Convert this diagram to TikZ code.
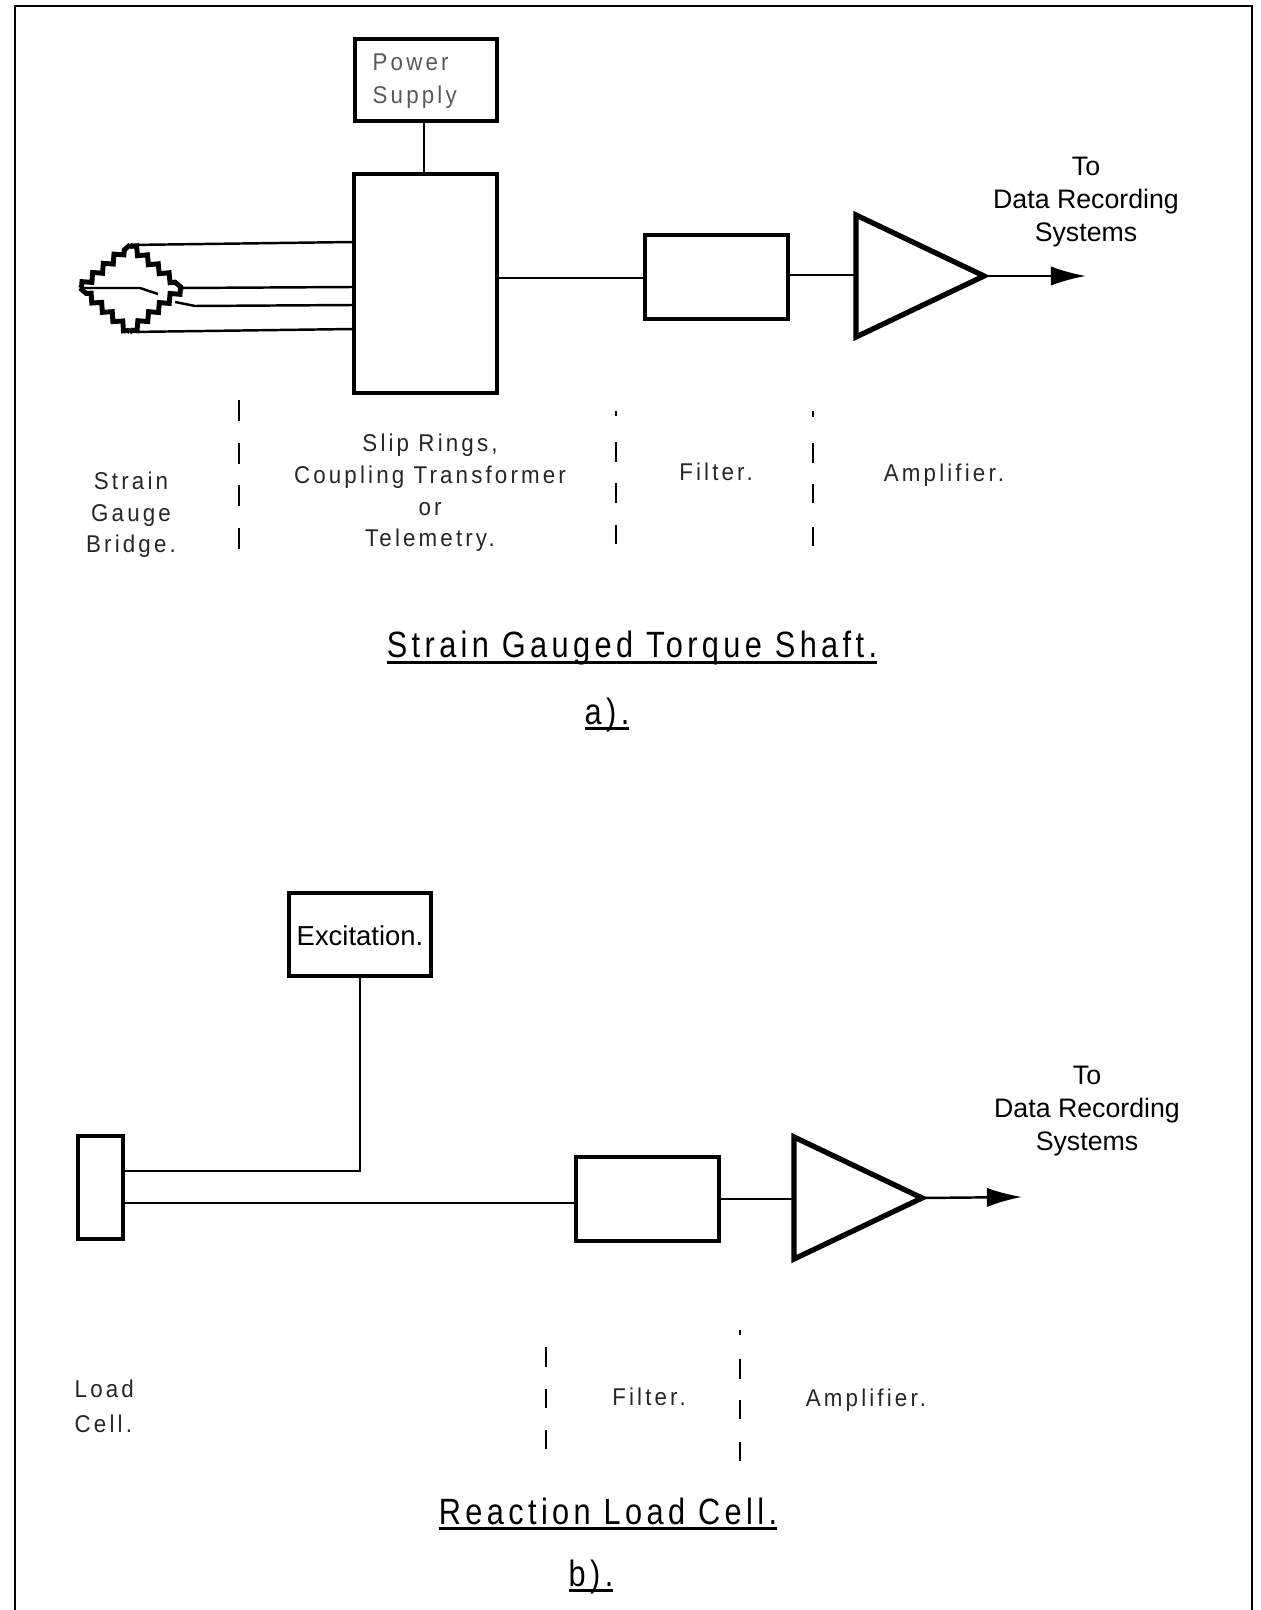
\documentclass[tikz,border=0pt]{standalone}
\usepackage{fontspec}
\setmainfont{Liberation Sans}
\newfontfamily\labelfont[LetterSpace=13,FakeStretch=0.92]{Liberation Sans}
\newfontfamily\titlefont[LetterSpace=12,FakeStretch=0.84]{Liberation Sans}
\newcommand{\headline}[1]{\setbox0=\hbox{#1}\rlap{#1}\rule[-1.6pt]{\wd0}{0.8pt}}
\usetikzlibrary{arrows.meta, positioning, shapes.geometric, decorations.pathmorphing}

\begin{document}
\begin{tikzpicture}[
  x=0.01cm, y=-0.01cm,
  box/.style={rectangle, draw, line width=1.25pt, inner sep=0pt, outer sep=0pt},
  amp/.style={isosceles triangle, draw, line width=1.5pt, inner sep=0pt, outer sep=0pt,
              isosceles triangle apex angle=51, isosceles triangle stretches,
              minimum width=1.22cm, minimum height=1.28cm},
  wire/.style={line width=0.7pt},
  arr/.style={-{Latex[length=10pt,width=5.5pt]}, line width=0.7pt},
  gauge/.style={line width=1.4pt, decorate, decoration={zigzag, segment length=4pt, amplitude=1pt,
                pre length=0.6pt, post length=0.6pt}},
  sep/.style={line width=0.75pt},
  lbl/.style={font=\labelfont\fontsize{6.9}{9}\selectfont, align=center, inner sep=0pt, text=black!85},
  outlbl/.style={font=\fontsize{7.6}{9.4}\selectfont, align=center, inner sep=0pt},
  heading/.style={font=\titlefont\fontsize{10.4}{12}\selectfont, inner sep=0pt, anchor=base},
]
\useasboundingbox (0,0) rectangle (1260,1610);
\coordinate (F1) at (15,1610);
\coordinate (F2) at (15,6);
\coordinate (F3) at (1252,6);
\coordinate (F4) at (1252,1610);
\draw[line width=0.7pt] (F1) -- (F2) -- (F3) -- (F4);

% a) torque shaft
\coordinate (BL) at (80,288);
\coordinate (BT) at (130,245);
\coordinate (BR) at (182,288);
\coordinate (BB) at (130,332);
\foreach \from/\to in {BL/BT, BT/BR, BR/BB, BB/BL}
  \draw[gauge] (\from) -- (\to);
\node[box, minimum width=1.42cm, minimum height=0.82cm] (Power) at (426,80) {};
\node[lbl, align=left, anchor=west, text=black!65] (PowerText) at (372,81) {Power\\[0.4pt]Supply};
\node[box, minimum width=1.43cm, minimum height=2.19cm] (Slip) at (425.5,283.5) {};
\node[box, minimum width=1.43cm, minimum height=0.84cm] (FilterA) at (716.5,277) {};
\node[amp, anchor=apex] (AmpA) at (984,276) {};
\coordinate (OutA) at (1086,276);
\draw[wire] (Power.south -| 424,0) -- (Slip.north -| 424,0);
\draw[wire] (BT) -- (Slip.west |- 0,242);
\draw[wire] (BR) -- (Slip.west |- 0,287);
\draw[wire] (175,302) -- (195,306) -- (Slip.west |- 0,305);
\draw[wire] (BB) -- (Slip.west |- 0,329);
\draw[wire] (BL) -- (140,288) -- (158,294);
\draw[wire] (Slip.east |- 0,278) -- (FilterA.west |- 0,278);
\draw[wire] (FilterA.east |- 0,275) -- (AmpA.lower side |- 0,275);
\draw[arr] (AmpA.apex) -- (OutA);
\node[outlbl] (ToA) at (1086,202) {To\\Data Recording\\Systems};
\draw[sep, dash pattern=on 6pt off 6.1pt] (239,400) -- (239,555);
\draw[sep, dash pattern=on 1.3pt off 7.5pt on 5.7pt off 6pt on 5.6pt off 6.2pt on 5.6pt off 9pt] (616,411) -- (616,546);
\draw[sep, dash pattern=on 1.6pt off 7.5pt on 5.7pt off 6pt on 5.4pt off 6.8pt on 5.4pt off 9pt] (813,411) -- (813,549);
\node[lbl] (GaugeText) at (131,515) {Strain\\Gauge\\Bridge.};
\node[lbl] (SlipText) at (430,493) {Slip Rings,\\Coupling Transformer\\or\\Telemetry.};
\node[lbl] (FilterTextA) at (716,472) {Filter.};
\node[lbl] (AmpTextA) at (944,475) {Amplifier.};
\node[heading] (TitleA) at (632,658) {\headline{Strain Gauged Torque Shaft.}};
\node[heading] (TagA) at (607,724) {\headline{a).}};

% b) load cell
\node[box, minimum width=1.42cm, minimum height=0.83cm] (Excite) at (360,934.5) {};
\node[inner sep=0pt, font=\fontsize{7.8}{9}\selectfont] (ExciteText) at (360,936) {Excitation.};
\node[box, minimum width=0.45cm, minimum height=1.03cm] (Cell) at (100.5,1187.5) {};
\node[box, minimum width=1.43cm, minimum height=0.84cm] (FilterB) at (647.5,1199) {};
\node[amp, anchor=apex] (AmpB) at (922,1198) {};
\coordinate (OutB) at (1022,1197);
\draw[wire] (Excite.south) |- (Cell.east |- 0,1171);
\draw[wire] (Cell.east |- 0,1203) -- (FilterB.west |- 0,1203);
\draw[wire] (FilterB.east |- 0,1199) -- (AmpB.lower side |- 0,1199);
\draw[arr] (AmpB.apex) -- (OutB);
\node[outlbl] (ToB) at (1087,1111) {To\\Data Recording\\Systems};
\draw[sep, dash pattern=on 5.7pt off 6.2pt on 5.4pt off 6.2pt on 5.4pt off 6.2pt] (546,1347) -- (546,1458);
\draw[sep, dash pattern=on 1.5pt off 6.8pt on 5.7pt off 6pt on 5.4pt off 6.4pt on 5.4pt off 6pt] (740,1330) -- (740,1468);
\node[lbl, align=left, anchor=west] (CellText) at (74,1406) {Load\\[1pt]Cell.};
\node[lbl] (FilterTextB) at (649,1397) {Filter.};
\node[lbl] (AmpTextB) at (866,1400) {Amplifier.};
\node[heading] (TitleB) at (608,1524) {\headline{Reaction Load Cell.}};
\node[heading] (TagB) at (591,1586) {\headline{b).}};
\end{tikzpicture}
\end{document}
